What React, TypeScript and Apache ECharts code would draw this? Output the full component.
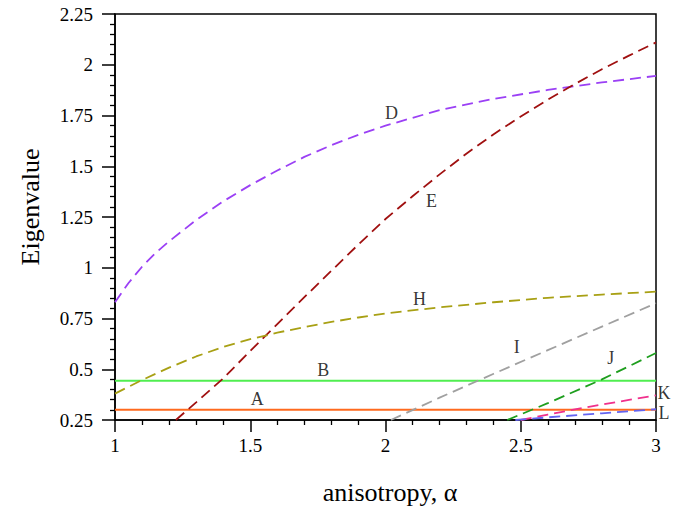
import React, { useEffect, useRef } from "react";
import * as echarts from "echarts";

// ---- data ----
const xTicks = [1, 1.5, 2, 2.5, 3];
const yTicks = [0.25, 0.5, 0.75, 1, 1.25, 1.5, 1.75, 2, 2.25];

const alphaA = [1, 3];
const valA = [0.3, 0.3];
const alphaB = [1, 3];
const valB = [0.443, 0.443];

const alphaD = [1, 1.05, 1.1, 1.15, 1.2, 1.3, 1.4, 1.5, 1.6, 1.7, 1.8, 1.9, 2.0, 2.2, 2.4, 2.6, 2.8, 3.0];
const valD = [0.83, 0.925, 1.005, 1.073, 1.13, 1.235, 1.327, 1.407, 1.479, 1.546, 1.604, 1.655, 1.7, 1.777, 1.832, 1.876, 1.913, 1.945];

const alphaE = [1.225, 1.3, 1.4, 1.5, 1.6, 1.7, 1.8, 1.9, 2.0, 2.1, 2.2, 2.3, 2.4, 2.5, 2.6, 2.7, 2.8, 2.9, 3.0];
const valE = [0.25, 0.337, 0.455, 0.59, 0.722, 0.855, 0.985, 1.115, 1.24, 1.352, 1.46, 1.563, 1.658, 1.745, 1.828, 1.905, 1.978, 2.045, 2.11];

const alphaH = [1, 1.1, 1.2, 1.3, 1.4, 1.5, 1.6, 1.7, 1.8, 1.9, 2.0, 2.2, 2.4, 2.6, 2.8, 3.0];
const valH = [0.38, 0.447, 0.508, 0.563, 0.61, 0.648, 0.68, 0.708, 0.733, 0.755, 0.775, 0.805, 0.83, 0.852, 0.868, 0.882];

const alphaI = [2.02, 2.2, 2.4, 2.6, 2.8, 3.0];
const valI = [0.25, 0.36, 0.478, 0.594, 0.71, 0.825];

const alphaJ = [2.45, 2.6, 2.8, 3.0];
const valJ = [0.25, 0.333, 0.45, 0.58];

const alphaK = [2.5, 2.6, 2.7, 2.8, 2.9, 3.0];
const valK = [0.25, 0.277, 0.302, 0.326, 0.349, 0.371];

const alphaL = [2.48, 2.6, 2.8, 3.0];
const valL = [0.25, 0.263, 0.283, 0.303];

// curve labels: name, alpha, value
const labelNames = ["A", "B", "D", "E", "H", "I", "J", "K", "L"];
const labelAlpha = [1.526, 1.77, 2.022, 2.17, 2.126, 2.485, 2.833, 3.03, 3.03];
const labelVal = [0.354, 0.497, 1.761, 1.327, 0.848, 0.61, 0.556, 0.384, 0.286];

const FONT = "Liberation Serif";

const zip = (xs: number[], ys: number[]) => xs.map((x, i) => [x, ys[i]]);

export default function App() {
  const ref = useRef<HTMLDivElement>(null);

  useEffect(() => {
    if (!ref.current) return;
    const chart = echarts.init(ref.current, undefined, { renderer: "svg" });

    const dashed = (name: string, xs: number[], ys: number[], color: string) => ({
      name,
      type: "line",
      data: zip(xs, ys),
      smooth: false,
      showSymbol: false,
      symbol: "none",
      lineStyle: { color, width: 1.8, type: [11, 6] },
      z: 3,
    });
    const solid = (name: string, xs: number[], ys: number[], color: string) => ({
      name,
      type: "line",
      data: zip(xs, ys),
      showSymbol: false,
      symbol: "none",
      lineStyle: { color, width: 2, type: "solid" },
      z: 2,
    });

    chart.setOption({
      animation: false,
      backgroundColor: "#ffffff",
      textStyle: { fontFamily: FONT },
      grid: {
        left: 115,
        right: 38,
        top: 14,
        bottom: 90,
        show: true,
        borderColor: "#000",
        borderWidth: 1.5,
        backgroundColor: "transparent",
      },
      xAxis: {
        type: "value",
        min: xTicks[0],
        max: xTicks[xTicks.length - 1],
        interval: 0.5,
        axisLine: { show: true, onZero: false, lineStyle: { color: "#000", width: 1.5 } },
        axisTick: { show: true, inside: false, length: 12, lineStyle: { color: "#000", width: 1.5 } },
        minorTick: { show: true, splitNumber: 5, length: 5, lineStyle: { color: "#000", width: 1.3 } },
        splitLine: { show: false },
        axisLabel: {
          color: "#000",
          fontFamily: FONT,
          fontSize: 19,
          margin: 16,
          formatter: (v: number) => String(v),
        },
      },
      yAxis: {
        type: "value",
        min: yTicks[0],
        max: yTicks[yTicks.length - 1],
        interval: 0.25,
        axisLine: { show: true, onZero: false, lineStyle: { color: "#000", width: 1.5 } },
        axisTick: { show: true, inside: false, length: 13, lineStyle: { color: "#000", width: 1.5 } },
        minorTick: { show: true, splitNumber: 5, length: 5, lineStyle: { color: "#000", width: 1.3 } },
        splitLine: { show: false },
        axisLabel: {
          color: "#000",
          fontFamily: FONT,
          fontSize: 19,
          margin: 22,
          formatter: (v: number) => String(v),
        },
      },
      graphic: [
        {
          type: "text",
          x: 30,
          y: 207,
          rotation: Math.PI / 2,
          style: {
            text: "Eigenvalue",
            fill: "#000",
            fontFamily: FONT,
            fontSize: 26,
            align: "center",
            verticalAlign: "middle",
          },
        },
        {
          type: "text",
          x: 390,
          y: 492,
          style: {
            text: "anisotropy, α",
            fill: "#000",
            fontFamily: FONT,
            fontSize: 26,
            align: "center",
            verticalAlign: "middle",
          },
        },
      ],
      series: [
        solid("A", alphaA, valA, "#ff6a1e"),
        solid("B", alphaB, valB, "#50ee50"),
        dashed("D", alphaD, valD, "#9b40f5"),
        dashed("E", alphaE, valE, "#a01010"),
        dashed("H", alphaH, valH, "#a8a014"),
        dashed("I", alphaI, valI, "#a0a0a0"),
        dashed("J", alphaJ, valJ, "#1e9e1e"),
        dashed("K", alphaK, valK, "#f0308c"),
        dashed("L", alphaL, valL, "#6464f0"),
        {
          name: "labels",
          type: "scatter",
          clip: false,
          symbolSize: 1,
          itemStyle: { color: "rgba(0,0,0,0)" },
          data: labelNames.map((n, i) => [labelAlpha[i], labelVal[i], n]),
          label: {
            show: true,
            position: "inside",
            color: "#000",
            fontFamily: FONT,
            fontSize: 18,
            formatter: (p: any) => p.data[2],
          },
          z: 5,
        },
      ],
    });

    return () => chart.dispose();
  }, []);

  return (
    <div
      ref={ref}
      style={{ position: "fixed", left: 0, top: 0, width: 694, height: 510, background: "#fff" }}
    />
  );
}
